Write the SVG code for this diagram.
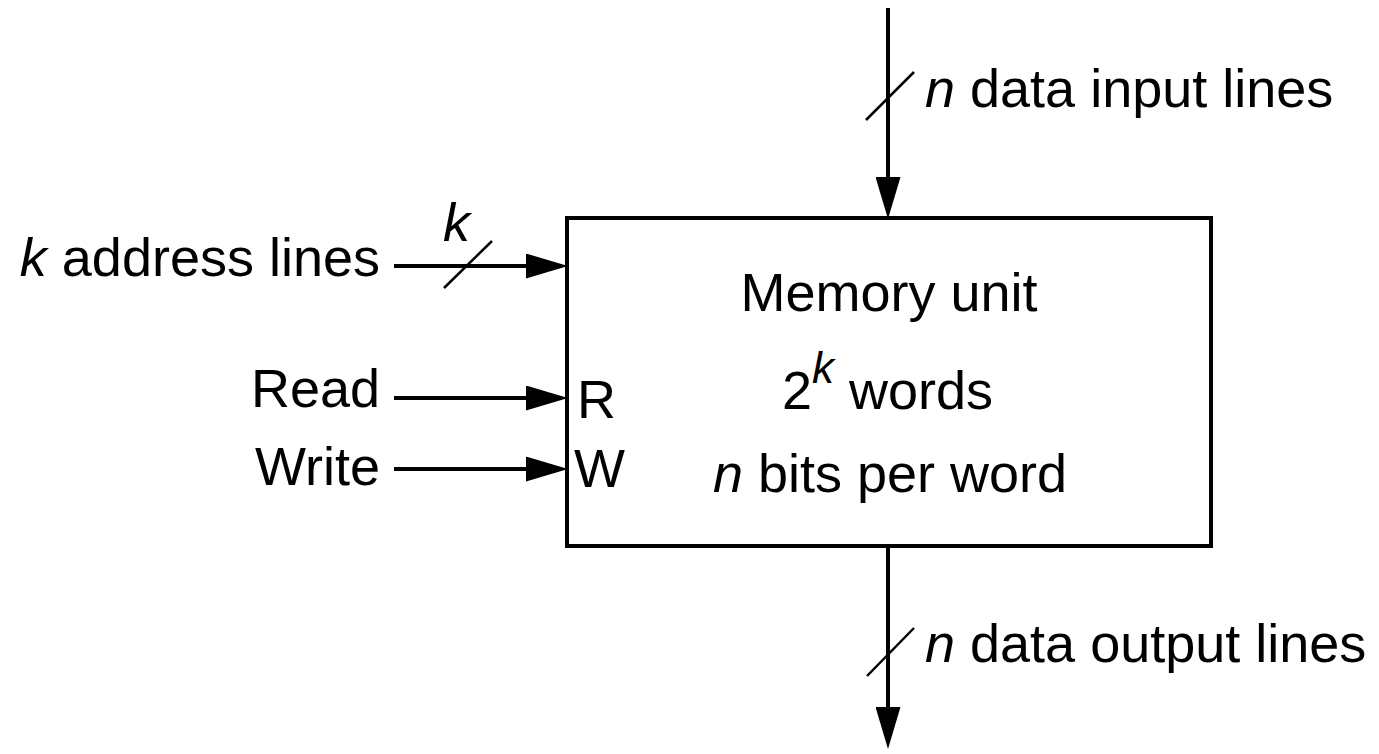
<svg xmlns="http://www.w3.org/2000/svg" width="1379" height="754" viewBox="0 0 1379 754">
<style>
text{font-family:"Liberation Sans",Arial,Helvetica,sans-serif;font-size:54px;fill:#000}
.i{font-style:italic}
.ln{stroke:#000;stroke-width:4;fill:none}
.sl{stroke:#000;stroke-width:2.5;fill:none}
</style>
<defs>
<marker id="ah" viewBox="0 0 42 25" refX="0" refY="12.5" markerWidth="42" markerHeight="25" markerUnits="userSpaceOnUse" orient="auto">
<path d="M0,0 L42,12.5 L0,25 z" fill="#000"/>
</marker>
</defs>
<rect width="1379" height="754" fill="#fff"/>
<g id="connectors">
<line class="ln" x1="888" y1="8" x2="888" y2="177" marker-end="url(#ah)"/>
<line class="sl" x1="866" y1="120" x2="914" y2="72"/>
<line class="ln" x1="888" y1="546" x2="888" y2="707" marker-end="url(#ah)"/>
<line class="sl" x1="867" y1="676" x2="914" y2="628"/>
<line class="ln" x1="394" y1="266" x2="526" y2="266" marker-end="url(#ah)"/>
<line class="sl" x1="444" y1="288" x2="492" y2="241"/>
<line class="ln" x1="394" y1="398" x2="526" y2="398" marker-end="url(#ah)"/>
<line class="ln" x1="394" y1="469" x2="526" y2="469" marker-end="url(#ah)"/>
</g>
<g id="memory">
<rect x="567" y="218" width="644" height="328" fill="#fff" stroke="#000" stroke-width="4"/>
<text x="889" y="311" text-anchor="middle">Memory unit</text>
<text x="782" y="409">2<tspan class="i" font-size="44" dy="-26">k</tspan><tspan dy="26"> words</tspan></text>
<text x="890" y="492" text-anchor="middle"><tspan class="i">n</tspan> bits per word</text>
<text x="577" y="418">R</text>
<text x="574" y="487">W</text>
</g>
<g id="labels">
<text x="925" y="107"><tspan class="i">n</tspan> data input lines</text>
<text x="925" y="662"><tspan class="i">n</tspan> data output lines</text>
<text x="380" y="276" text-anchor="end"><tspan class="i">k</tspan> address lines</text>
<text x="443" y="241" class="i">k</text>
<text x="380" y="407" text-anchor="end">Read</text>
<text x="380" y="485" text-anchor="end">Write</text>
</g>
</svg>
